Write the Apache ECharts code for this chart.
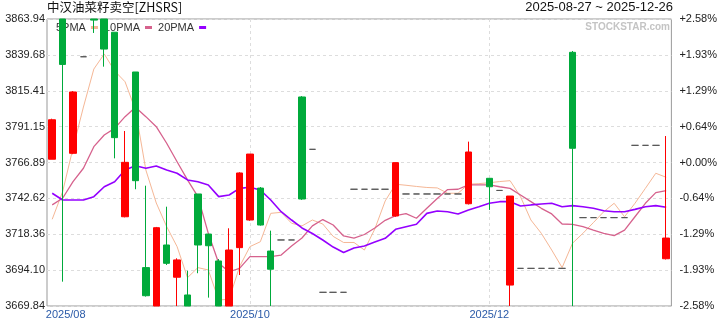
<!DOCTYPE html>
<html><head><meta charset="utf-8">
<script src="https://cdn.jsdelivr.net/npm/echarts@6/dist/echarts.min.js"></script>
<style>html,body{margin:0;padding:0;background:#fff}#c{width:720px;height:320px}</style>
</head><body><div id="c"></div>
<script>
const categories = [
 '2025-08-27','2025-08-28','2025-08-29','2025-09-01','2025-09-02','2025-09-03','2025-09-04','2025-09-05','2025-09-08','2025-09-09',
 '2025-09-10','2025-09-11','2025-09-12','2025-09-15','2025-09-16','2025-09-17','2025-09-18','2025-09-19','2025-09-22',
 '2025-10-09','2025-10-10','2025-10-13','2025-10-14','2025-10-15','2025-10-16','2025-10-17','2025-10-20','2025-10-21','2025-10-22',
 '2025-10-23','2025-10-24','2025-10-27','2025-10-28','2025-10-29','2025-10-30','2025-10-31','2025-11-03','2025-11-04','2025-11-05',
 '2025-11-06','2025-11-07','2025-11-10',
 '2025-12-01','2025-12-02','2025-12-03','2025-12-04','2025-12-05','2025-12-08','2025-12-09','2025-12-10','2025-12-11','2025-12-12',
 '2025-12-15','2025-12-16','2025-12-17','2025-12-18','2025-12-19','2025-12-22','2025-12-23','2025-12-26'
];
const openVals = [3769.1,3872,3773.1,3838.4,3876,3885,3855.0,3730.2,3828.1,3695.8,
 3664,3711.1,3689.3,3677.3,3745.6,3718.5,3700.3,3664,3709.3,3728.0,
 3749.6,3707.0,3714.5,3714.5,3811.2,3775.8,3679.1,3679.1,3679.1,3748.8,
 3748.8,3748.8,3748.8,3730.7,3745.6,3745.6,3745.6,3745.6,3745.6,3745.6,
 3739.0,null,3756.2,3748.0,3684.0,3695.3,3695.3,3695.3,3695.3,3695.3,
 3841.4,3729.6,3729.6,3729.6,3729.6,3729.6,3778.5,3778.5,3778.5,3701.8];
const closeVals = [3795.8,3833.2,3814.6,3838.4,3863.2,3843.6,3783.7,3767.0,3754.6,3676.8,
 3722.8,3698.7,3701.0,3665,3711.1,3710.6,3664,3707.7,3759.8,3772.6,
 3724.6,3694.7,3714.5,3714.5,3742.2,3775.8,3679.1,3679.1,3679.1,3748.8,
 3748.8,3748.8,3748.8,3766.8,3745.6,3745.6,3745.6,3745.6,3745.6,3745.6,
 3774.0,null,3750.5,3748.0,3744.2,3695.3,3695.3,3695.3,3695.3,3695.3,
 3776.5,3729.6,3729.6,3729.6,3729.6,3729.6,3778.5,3778.5,3778.5,3715.8];
const lowVals = [3769.1,3686.3,3772.5,3838.4,3854.5,3831.7,3769.7,3729.8,3748.8,3676.2,
 3660,3697.6,3660,3662,3692.0,3675.5,3660,3660,3690.8,3727.5,
 3724.2,3660,3714.5,3714.5,3741.6,3775.8,3679.1,3679.1,3679.1,3748.8,
 3748.8,3748.8,3748.8,3730.2,3745.6,3745.6,3745.6,3745.6,3745.6,3745.6,
 3738.5,null,3734.8,3748.0,3660,3695.3,3695.3,3695.3,3695.3,3695.3,
 3660,3729.6,3729.6,3729.6,3729.6,3729.6,3778.5,3778.5,3778.5,3701.3];
const highVals = [3796.5,3872,3815.2,3838.4,3878,3888,3855.0,3788.2,3828.1,3751.2,
 3723.3,3737.0,3702.1,3693.7,3745.6,3718.5,3701.6,3722.4,3760.3,3772.6,
 3750.3,3720.8,3714.5,3714.5,3811.8,3775.8,3679.1,3679.1,3679.1,3748.8,
 3748.8,3748.8,3748.8,3766.8,3745.6,3745.6,3745.6,3745.6,3745.6,3745.6,
 3781.0,null,3756.2,3748.0,3744.2,3695.3,3695.3,3695.3,3695.3,3695.3,
 3842.3,3729.6,3729.6,3729.6,3729.6,3729.6,3778.5,3778.5,3778.5,3784.8];
const ma5 = [3728.5,3747.1,3776.7,3804.4,3830.1,3840.3,3828.8,3821.5,3802.4,3761.8,
 3739.5,3723.5,3710.0,3689.0,3695.8,3694.2,3673.9,3674.4,3696.4,3710.0,
 3713.3,3732.5,3733.2,3725.8,3724.0,3728.0,3725.3,3716.9,3712.8,3712.8,
 3707.7,3721.9,3740.9,3752.2,3751.5,3750.7,3750.0,3749.7,3746.1,3746.1,
 3752.2,3752.6,3753.2,3754.0,3754.6,3743.8,3728.0,3719.0,3707.7,3695.8,
 3712.3,3719.0,3726.2,3733.6,3739.3,3730.2,3739.3,3749.4,3759.6,3756.9];
const ma10 = [3738.2,3742.7,3753.9,3763.0,3777.6,3785.5,3790.0,3797.9,3804.2,3797.9,
 3791.1,3779.9,3767.4,3755.1,3743.8,3719.0,3698.7,3693.0,3695.3,3703.2,
 3703.2,3703.2,3704.3,3710.4,3715.8,3724.0,3728.3,3724.6,3717.2,3715.8,
 3718.2,3722.6,3727.8,3731.0,3732.3,3729.2,3735.9,3742.6,3748.6,3748.8,
 3751.7,3751.7,3751.7,3750.5,3749.4,3744.9,3740.4,3735.9,3732.1,3725.3,
 3725.1,3723.5,3721.2,3719.0,3717.4,3721.2,3730.2,3739.3,3746.5,3747.8];
const ma20 = [3746.1,3741.5,3741.5,3741.5,3743.8,3750.5,3753.9,3761.8,3764.7,3763.0,
 3764.5,3761.8,3759.6,3755.1,3753.9,3751.7,3743.8,3744.9,3749.4,3750.1,
 3748.3,3741.5,3733.6,3728.0,3722.6,3718.9,3714.5,3709.7,3706.0,3709.1,
 3710.4,3713.1,3715.6,3721.7,3723.5,3725.1,3732.5,3734.1,3733.6,3732.1,
 3734.8,3737.0,3739.3,3740.4,3740.4,3737.5,3738.2,3738.8,3739.3,3737.0,
 3737.7,3737.0,3735.9,3734.3,3733.6,3733.6,3735.2,3737.0,3737.7,3736.6];
const leftTickLabels = ['3669.84','3694.10','3718.36','3742.62','3766.89','3791.15','3815.41','3839.68','3863.94'];
const rightTickLabels = ['-2.58%','-1.93%','-1.29%','-0.64%','+0.00%','+0.64%','+1.29%','+1.93%','+2.58%'];
const monthLabelIdx = [0, 19, 42];
const monthGridIdx = [19, 42];
const yMin = 3669.84, yMax = 3863.94;
const pMin = -2.58, pMax = 2.58;

const yInt = (yMax - yMin) / 8;
const pInt = (pMax - pMin) / 8;
// the chart window cuts candles at the plot edges
const clampY = (v) => Math.min(Math.max(v, yMin), yMax);
const candleData = categories.map((c, i) => openVals[i] == null ? '-' :
  [clampY(openVals[i]), clampY(closeVals[i]), clampY(lowVals[i]), clampY(highVals[i])]);
const FONT = '"Liberation Sans", Arial, sans-serif';

const chart = echarts.init(document.getElementById('c'), null, {renderer: 'canvas'});
chart.setOption({
  animation: false,
  backgroundColor: '#fff',
  title: [
    {text: '中汉油菜籽卖空[ZHSRS]', left: 47, top: 1, padding: 0,
     textStyle: {fontSize: 12.5, fontWeight: 'normal', color: '#111', fontFamily: '"Noto Sans CJK SC", sans-serif'}},
    {text: '2025-08-27 ~ 2025-12-26', right: 47, top: 1, padding: 0,
     textStyle: {fontSize: 13, fontWeight: 'normal', color: '#111', fontFamily: FONT}}
  ],
  graphic: [{
    type: 'text', right: 50, top: 22, z: 0, silent: true,
    style: {text: 'STOCKSTAR.com', fill: '#c4c4c4', font: 'bold 10px ' + FONT}
  }],
  legend: {
    data: ['5PMA', '10PMA', '20PMA'], left: 56, top: 22, z: 1, align: 'right',
    icon: 'rect', itemWidth: 7, itemHeight: 3, itemGap: 6, padding: 0,
    selectedMode: false,
    textStyle: {fontSize: 11, color: '#333', fontFamily: FONT}
  },
  grid: {left: 47, right: 46, top: 19, bottom: 14, show: true, borderColor: '#999', borderWidth: 1, backgroundColor: 'transparent'},
  xAxis: {
    type: 'category', data: categories, boundaryGap: true,
    axisLine: {show: false}, axisTick: {show: false},
    splitLine: {show: true, interval: (i) => monthGridIdx.includes(i), alignWithLabel: true,
                lineStyle: {color: '#ddd', type: [3, 3], width: 1}},
    axisLabel: {
      interval: (i) => monthLabelIdx.includes(i),
      formatter: (v, i) => {
        const s = v.slice(0, 4) + '/' + v.slice(5, 7);
        return i === 0 ? '{f|' + s + '}' : s;
      },
      rich: {f: {padding: [0, 0, 0, 27], fontSize: 11, color: '#2a5aa8', fontFamily: FONT}},
      color: '#2a5aa8', fontSize: 11, fontFamily: FONT, margin: 3, showMinLabel: true
    }
  },
  yAxis: [{
    type: 'value', min: yMin, max: yMax, interval: yInt, position: 'left',
    axisLine: {show: false}, axisTick: {show: false},
    splitLine: {show: true, lineStyle: {color: '#ddd', type: [3, 3], width: 1}},
    axisLabel: {
      formatter: (v) => leftTickLabels[Math.round((v - yMin) / yInt)],
      color: '#222', fontSize: 11, fontFamily: FONT, margin: 2
    }
  }, {
    type: 'value', min: pMin, max: pMax, interval: pInt, position: 'right',
    axisLine: {show: false}, axisTick: {show: false}, splitLine: {show: false},
    axisLabel: {
      formatter: (v) => rightTickLabels[Math.round((v - pMin) / pInt)],
      color: '#222', fontSize: 11, fontFamily: FONT, margin: 8, padding: [5, 0, 0, 0]
    }
  }],
  series: [
    {name: '5PMA', type: 'line', data: ma5, showSymbol: false, symbol: 'none', z: 2,
     lineStyle: {color: '#f5b796', width: 1}, itemStyle: {color: '#f5b796'}},
    {name: '10PMA', type: 'line', data: ma10, showSymbol: false, symbol: 'none', z: 2,
     lineStyle: {color: '#d6628d', width: 1.3}, itemStyle: {color: '#d6628d'}},
    {name: '20PMA', type: 'line', data: ma20, showSymbol: false, symbol: 'none', z: 2,
     lineStyle: {color: '#9400ff', width: 1.6}, itemStyle: {color: '#9400ff'}},
    {name: 'K', type: 'candlestick', data: candleData, barWidth: 7, z: 3,
     itemStyle: {color: '#ff0000', color0: '#00aa3b', borderColor: '#ff0000', borderColor0: '#00aa3b',
                 borderColorDoji: '#555', borderWidth: 1}}
  ]
});
</script></body></html>
